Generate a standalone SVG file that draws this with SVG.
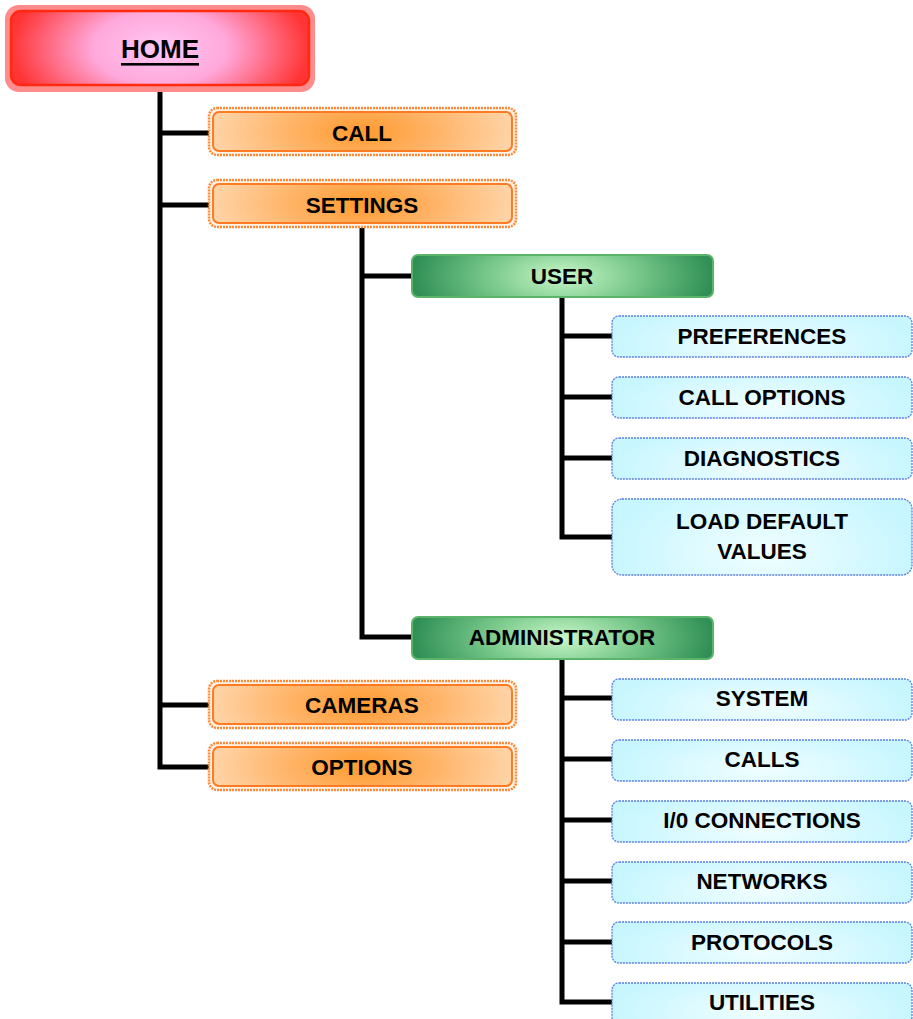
<svg xmlns="http://www.w3.org/2000/svg" width="913" height="1019" viewBox="0 0 913 1019">
<defs>
<radialGradient id="gRed" cx="0.5" cy="0.5" r="0.5" gradientTransform="translate(0.5 0.5) scale(1 2.2) translate(-0.5 -0.5)">
<stop offset="0" stop-color="#FFC8F2"/><stop offset="0.45" stop-color="#FFA8DC"/><stop offset="1" stop-color="#FF3535"/>
</radialGradient>
<radialGradient id="gOrange" cx="0.5" cy="0.5" r="0.5" gradientTransform="translate(0.5 0.5) scale(1 3) translate(-0.5 -0.5)">
<stop offset="0" stop-color="#FF9A2E"/><stop offset="0.5" stop-color="#FFB468"/><stop offset="1" stop-color="#FFD3A6"/>
</radialGradient>
<radialGradient id="gGreen" cx="0.5" cy="0.5" r="0.5" gradientTransform="translate(0.5 0.5) scale(1 3) translate(-0.5 -0.5)">
<stop offset="0" stop-color="#C9F7C9"/><stop offset="0.5" stop-color="#78C88A"/><stop offset="1" stop-color="#2F8F55"/>
</radialGradient>
<radialGradient id="gBlue" cx="0.5" cy="0.7" r="0.5" gradientTransform="translate(0.5 0.7) scale(1 2) translate(-0.5 -0.7)">
<stop offset="0" stop-color="#F0FEFF"/><stop offset="1" stop-color="#C8F6FF"/>
</radialGradient>
</defs>
<style>
.t{font-family:"Liberation Sans",Arial,sans-serif;font-weight:bold;font-size:22.5px;fill:#000;text-anchor:middle;dominant-baseline:central}
.th{font-size:26px;text-decoration:underline}
.ow{fill:#FFF2E6;stroke:#FF8A3A;stroke-width:2.5;stroke-dasharray:2 1}
.ob{fill:url(#gOrange);stroke:#FF7A20;stroke-width:2}
.gb{fill:url(#gGreen);stroke:#5BB46A;stroke-width:2}
.bb{fill:url(#gBlue);stroke:#5A7FE0;stroke-width:1.3;stroke-dasharray:2 1}
.c{fill:none;stroke:#000;stroke-width:5}
</style>
<g id="connectors">
<path class="c" d="M160 92 V767 H210 M160 133 H210 M160 205 H210 M160 705 H210"/>
<path class="c" d="M362 228 V637 H412 M362 276 H412"/>
<path class="c" d="M562 297 V537 H612 M562 336 H612 M562 397 H612 M562 458 H612"/>
<path class="c" d="M562 659 V1002 H612 M562 698 H612 M562 759 H612 M562 820 H612 M562 881 H612 M562 942 H612"/>
</g>
<g id="home">
<rect x="5" y="5" width="310" height="87" rx="14" fill="#FF8C8C"/>
<rect x="11" y="11" width="298" height="74" rx="10" fill="url(#gRed)" stroke="#FF2A10" stroke-width="2.5"/>
<text class="t th" x="160" y="49">HOME</text>
</g>
<g id="call">
<rect class="ow" x="209" y="108" width="307" height="47" rx="8"/>
<rect class="ob" x="213" y="112" width="299" height="39" rx="6"/>
<text class="t" x="362" y="133">CALL</text>
</g>
<g id="settings">
<rect class="ow" x="209" y="180" width="307" height="47" rx="8"/>
<rect class="ob" x="213" y="184" width="299" height="39" rx="6"/>
<text class="t" x="362" y="205">SETTINGS</text>
</g>
<g id="cameras">
<rect class="ow" x="209" y="681" width="307" height="47" rx="8"/>
<rect class="ob" x="213" y="685" width="299" height="39" rx="6"/>
<text class="t" x="362" y="705">CAMERAS</text>
</g>
<g id="options">
<rect class="ow" x="209" y="743" width="307" height="47" rx="8"/>
<rect class="ob" x="213" y="747" width="299" height="39" rx="6"/>
<text class="t" x="362" y="767">OPTIONS</text>
</g>
<g id="user">
<rect class="gb" x="412" y="255" width="301" height="42" rx="6"/>
<text class="t" x="562" y="276">USER</text>
</g>
<g id="administrator">
<rect class="gb" x="412" y="617" width="301" height="42" rx="6"/>
<text class="t" x="562" y="637">ADMINISTRATOR</text>
</g>
<g id="preferences">
<rect class="bb" x="612" y="316" width="300" height="41" rx="7"/>
<text class="t" x="762" y="336">PREFERENCES</text>
</g>
<g id="call-options">
<rect class="bb" x="612" y="377" width="300" height="41" rx="7"/>
<text class="t" x="762" y="397">CALL OPTIONS</text>
</g>
<g id="diagnostics">
<rect class="bb" x="612" y="438" width="300" height="41" rx="7"/>
<text class="t" x="762" y="458">DIAGNOSTICS</text>
</g>
<g id="load-default">
<rect class="bb" x="612" y="499" width="300" height="76" rx="10"/>
<text class="t" x="762" y="521">LOAD DEFAULT</text>
<text class="t" x="762" y="551">VALUES</text>
</g>
<g id="system">
<rect class="bb" x="612" y="679" width="300" height="41" rx="7"/>
<text class="t" x="762" y="698">SYSTEM</text>
</g>
<g id="calls">
<rect class="bb" x="612" y="740" width="300" height="41" rx="7"/>
<text class="t" x="762" y="759">CALLS</text>
</g>
<g id="io-connections">
<rect class="bb" x="612" y="801" width="300" height="41" rx="7"/>
<text class="t" x="762" y="820">I/0 CONNECTIONS</text>
</g>
<g id="networks">
<rect class="bb" x="612" y="862" width="300" height="41" rx="7"/>
<text class="t" x="762" y="881">NETWORKS</text>
</g>
<g id="protocols">
<rect class="bb" x="612" y="922" width="300" height="41" rx="7"/>
<text class="t" x="762" y="942">PROTOCOLS</text>
</g>
<g id="utilities">
<rect class="bb" x="612" y="983" width="300" height="41" rx="7"/>
<text class="t" x="762" y="1002">UTILITIES</text>
</g>
</svg>
